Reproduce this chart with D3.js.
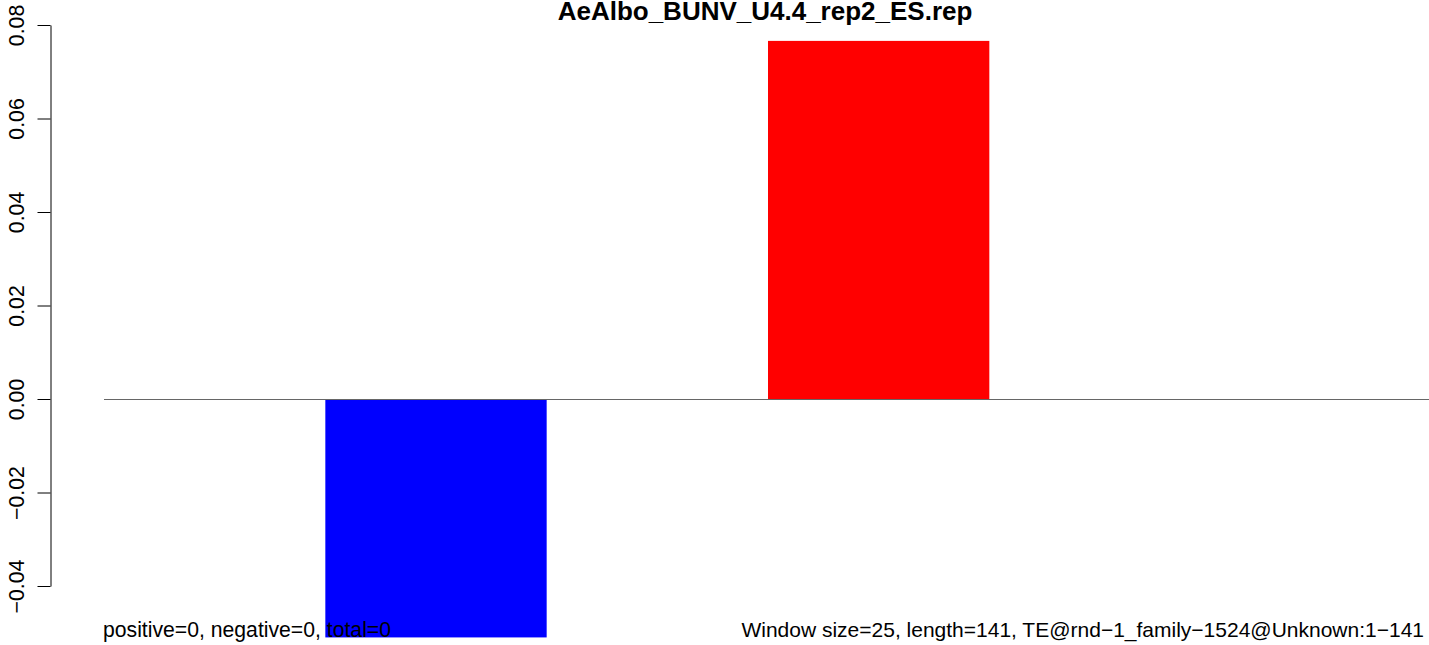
<!DOCTYPE html>
<html>
<head>
<meta charset="utf-8">
<script src="https://cdn.jsdelivr.net/npm/d3@7"></script>
<style>
  html, body { margin: 0; padding: 0; background: #fff; }
  svg { display: block; font-family: "Liberation Sans", Arial, Helvetica, sans-serif; }
</style>
</head>
<body>
<svg id="chart" width="1429" height="645"></svg>
<script>
// ---- data ----
const chartTitle = "AeAlbo_BUNV_U4.4_rep2_ES.rep";
const windows = ["w1", "w2", "w3", "w4", "w5", "w6"];
const values = [0, -0.051, 0, 0.0766, 0, 0];
const yTicks = [-0.04, -0.02, 0.00, 0.02, 0.04, 0.06, 0.08];
const leftNote = "positive=0, negative=0, total=0";
const rightNote = "Window size=25, length=141, TE@rnd\u22121_family\u22121524@Unknown:1\u2212141";

// ---- layout ----
const svg = d3.select("#chart");
const W = 1429, H = 645;

const x = d3.scaleBand().domain(windows).range([104, 1432]).padding(0);
const y = d3.scaleLinear().domain([-0.04, 0.08]).range([586, 25]);

// bars
svg.append("g").selectAll("rect")
  .data(windows.map((w, i) => ({ w, v: values[i] })))
  .join("rect")
  .attr("x", d => x(d.w))
  .attr("width", x.bandwidth())
  .attr("y", d => Math.min(y(0), y(d.v)))
  .attr("height", d => Math.abs(y(d.v) - y(0)))
  .attr("fill", d => d.v >= 0 ? "#ff0000" : "#0000ff");

// zero line
svg.append("line")
  .attr("x1", x.range()[0]).attr("x2", W)
  .attr("y1", Math.round(y(0)) + 0.5).attr("y2", Math.round(y(0)) + 0.5)
  .attr("stroke", "#666666").attr("stroke-width", 1);

// y axis
const fmt = v => d3.format(".2f")(v).replace("-", "\u2212");
const axis = svg.append("g").attr("transform", "translate(50.5,0)")
  .call(d3.axisLeft(y).tickValues(yTicks).tickSize(13).tickSizeOuter(0).tickFormat(fmt));
axis.select(".domain").attr("stroke", "#000").attr("stroke-width", 1);
axis.selectAll(".tick line").attr("stroke", "#000").attr("stroke-width", 1);
axis.selectAll(".tick text")
  .attr("font-family", "'Liberation Sans', Arial, sans-serif")
  .attr("font-size", 21.3)
  .attr("fill", "#000")
  .attr("transform", "rotate(-90)")
  .attr("x", 0)
  .attr("y", -27)
  .attr("dy", 0)
  .attr("text-anchor", "middle");

// title
svg.append("text")
  .attr("x", 765).attr("y", 20)
  .attr("text-anchor", "middle")
  .attr("font-weight", "bold")
  .attr("font-size", 26)
  .attr("fill", "#000")
  .text(chartTitle);

// bottom notes
svg.append("text")
  .attr("x", 103).attr("y", 637)
  .attr("font-size", 21.2)
  .attr("fill", "#000")
  .text(leftNote);
svg.append("text")
  .attr("x", 1424).attr("y", 637)
  .attr("text-anchor", "end")
  .attr("font-size", 21)
  .attr("fill", "#000")
  .text(rightNote);
</script>
</body>
</html>
